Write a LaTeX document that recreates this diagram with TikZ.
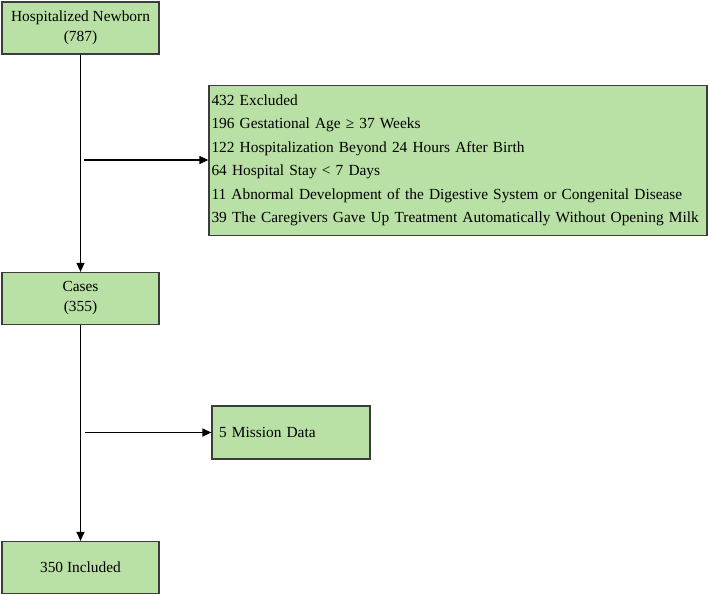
\documentclass[tikz,border=0pt]{standalone}
\usepackage{fontspec}
\setmainfont{Liberation Serif}
\usetikzlibrary{arrows.meta}
\definecolor{boxfill}{HTML}{B9E0A5}
\definecolor{boxline}{HTML}{3C3C3C}
\begin{document}
\begin{tikzpicture}[x=1pt,y=-1pt,
  box/.style={draw=boxline, fill=boxfill, line width=1.3pt,
    font=\fontsize{15.4}{20}\selectfont, inner sep=0pt,
    minimum width=157pt, minimum height=52pt, align=center},
  conn/.style={draw=black, line width=1.3pt,
    -{Triangle[length=9pt,width=8pt]}}]
\useasboundingbox (0,0) rectangle (708,595);
\node[box] (hn) at (80.5,28) {Hospitalized Newborn\\(787)};
\node[box] (cases) at (80.5,298.5) {Cases\\(355)};
\node[box] (inc) at (80.5,567.5) {350 Included};
\node[box, minimum width=498pt, minimum height=150pt, text width=493pt,
  align=left, font=\fontsize{15.4}{23.5}\selectfont] (exc) at (458,160.5)
  {432 Excluded\\
   196 Gestational Age ≥ 37 Weeks\\
   122 Hospitalization Beyond 24 Hours After Birth\\
   64 Hospital Stay < 7 Days\\
   11 Abnormal Development of the Digestive System or Congenital Disease\\
   39 The Caregivers Gave Up Treatment Automatically Without Opening Milk};
\node[box, minimum width=158pt, minimum height=53pt, text width=144pt,
  align=left] (mis) at (291,432.5) {5 Mission Data};
\coordinate (a1) at (84,160);
\coordinate (a2) at (85,432.5);
\draw[conn] (hn) -- (cases);
\draw[conn] (cases) -- (inc);
\draw[conn] (a1) -- (a1 -| exc.west);
\draw[conn] (a2) -- (a2 -| mis.west);
\end{tikzpicture}
\end{document}
